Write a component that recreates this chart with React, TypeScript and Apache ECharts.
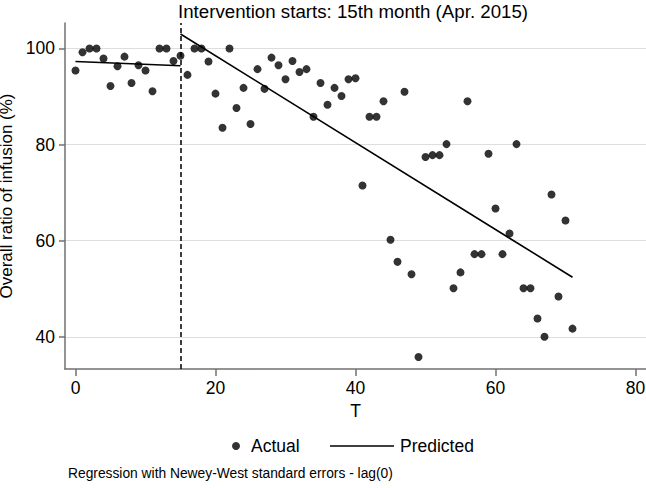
import React, { useEffect, useRef } from "react";
import * as echarts from "echarts";

// Monthly overall infusion ratio (%), month T = 0 .. 71
const actualRatio = [
  95.4, 99.2, 100, 100, 97.9, 92.2, 96.3, 98.3, 92.8, 96.5, 95.4, 91.1,
  100, 100, 97.4, 98.5, 94.5, 100, 100, 97.3, 90.6, 83.5, 100, 87.6,
  91.8, 84.3, 95.7, 91.6, 98.1, 96.5, 93.6, 97.4, 95.1, 95.7, 85.8, 92.8,
  88.3, 91.8, 90.1, 93.6, 93.8, 71.5, 85.8, 85.8, 89.0, 60.2, 55.6, 91.0,
  53.0, 35.8, 77.4, 77.8, 77.8, 80.1, 50.1, 53.4, 89.0, 57.2, 57.2, 78.1,
  66.7, 57.2, 61.5, 80.1, 50.1, 50.1, 43.8, 40.0, 69.6, 48.4, 64.2, 41.7,
];

// Fitted segments of the interrupted time-series regression
const preFitMonths = [0, 15];
const preFitValues = [97.3, 96.4];
const postFitMonths = [15, 71];
const postFitValues = [103.0, 52.4];

const interventionMonth = 15;
const xTickValues = [0, 20, 40, 60, 80];
const yTickValues = [40, 60, 80, 100];

const FONT = "'Liberation Sans', Arial, Helvetica, sans-serif";

export default function App() {
  const ref = useRef<HTMLDivElement>(null);

  useEffect(() => {
    if (!ref.current) return;
    const chart = echarts.init(ref.current, null, { renderer: "svg" });

    const actualPoints = actualRatio.map((v, t) => [t, v]);
    const prePoints = preFitMonths.map((t, i) => [t, preFitValues[i]]);
    const postPoints = postFitMonths.map((t, i) => [t, postFitValues[i]]);

    chart.setOption({
      animation: false,
      backgroundColor: "#ffffff",
      textStyle: { fontFamily: FONT },
      grid: {
        left: 65,
        right: 0,
        top: 23,
        bottom: 119,
        containLabel: false,
        outerBoundsMode: "none",
      },
      xAxis: {
        type: "value",
        min: -1.5,
        max: 81.5,
        name: "T",
        nameLocation: "middle",
        nameGap: 28,
        nameTextStyle: { fontSize: 17.5, color: "#000", fontFamily: FONT },
        axisLine: { show: true, onZero: false, lineStyle: { color: "#707070", width: 1.5 } },
        axisTick: { show: true, length: 7, customValues: xTickValues, lineStyle: { color: "#707070", width: 1.5 } },
        axisLabel: { customValues: xTickValues, margin: 10, fontSize: 17.5, color: "#000", fontFamily: FONT },
        splitLine: { show: false },
      },
      yAxis: {
        type: "value",
        min: 33.3,
        max: 105.3,
        name: "Overall ratio of infusion (%)",
        nameLocation: "middle",
        nameGap: 44,
        nameTextStyle: { fontSize: 17, color: "#000", fontFamily: FONT },
        axisLine: { show: true, onZero: false, lineStyle: { color: "#707070", width: 1.5 } },
        axisTick: { show: true, length: 6, customValues: yTickValues, lineStyle: { color: "#707070", width: 1.5 } },
        axisLabel: { customValues: yTickValues, margin: 10, fontSize: 17.5, color: "#000", fontFamily: FONT },
        splitLine: { show: true, lineStyle: { color: "#dedede", width: 1.2 } },
      },
      legend: [
        {
          data: ["Actual"],
          left: 227,
          top: 432,
          icon: "circle",
          itemWidth: 20,
          itemHeight: 8,
          textStyle: { fontSize: 17.5, color: "#000", fontFamily: FONT },
          selectedMode: false,
        },
        {
          data: [{ name: "Predicted", icon: "rect" }],
          left: 325,
          top: 432,
          itemWidth: 64,
          itemHeight: 1.6,
          textStyle: { fontSize: 17.5, color: "#000", fontFamily: FONT, padding: [0, 0, 0, 1] },
          selectedMode: false,
        },
      ],
      graphic: [
        {
          type: "text",
          left: 178,
          top: 2,
          style: {
            text: "Intervention starts: 15th month (Apr. 2015)",
            fontSize: 18.7,
            fill: "#000",
            fontFamily: FONT,
          },
        },
        {
          type: "text",
          left: 68,
          top: 466,
          style: {
            text: "Regression with Newey-West standard errors - lag(0)",
            fontSize: 13.8,
            fill: "#000",
            fontFamily: FONT,
          },
        },
      ],
      series: [
        {
          name: "Actual",
          type: "scatter",
          data: actualPoints,
          symbol: "circle",
          symbolSize: 8,
          itemStyle: { color: "#000" },
          z: 2,
          markLine: {
            silent: true,
            symbol: "none",
            label: { show: false },
            lineStyle: { color: "#000", type: [5, 3], width: 1.5 },
            data: [{ xAxis: interventionMonth }],
          },
        },
        {
          name: "Predicted",
          type: "line",
          data: prePoints,
          symbol: "none",
          lineStyle: { color: "#000", width: 1.6 },
          itemStyle: { color: "#000" },
          z: 3,
        },
        {
          name: "Predicted",
          type: "line",
          data: postPoints,
          symbol: "none",
          lineStyle: { color: "#000", width: 1.6 },
          itemStyle: { color: "#000" },
          z: 3,
        },
      ],
    });

    return () => chart.dispose();
  }, []);

  return <div ref={ref} style={{ width: 646, height: 488, position: "absolute", left: 0, top: 0 }} />;
}
